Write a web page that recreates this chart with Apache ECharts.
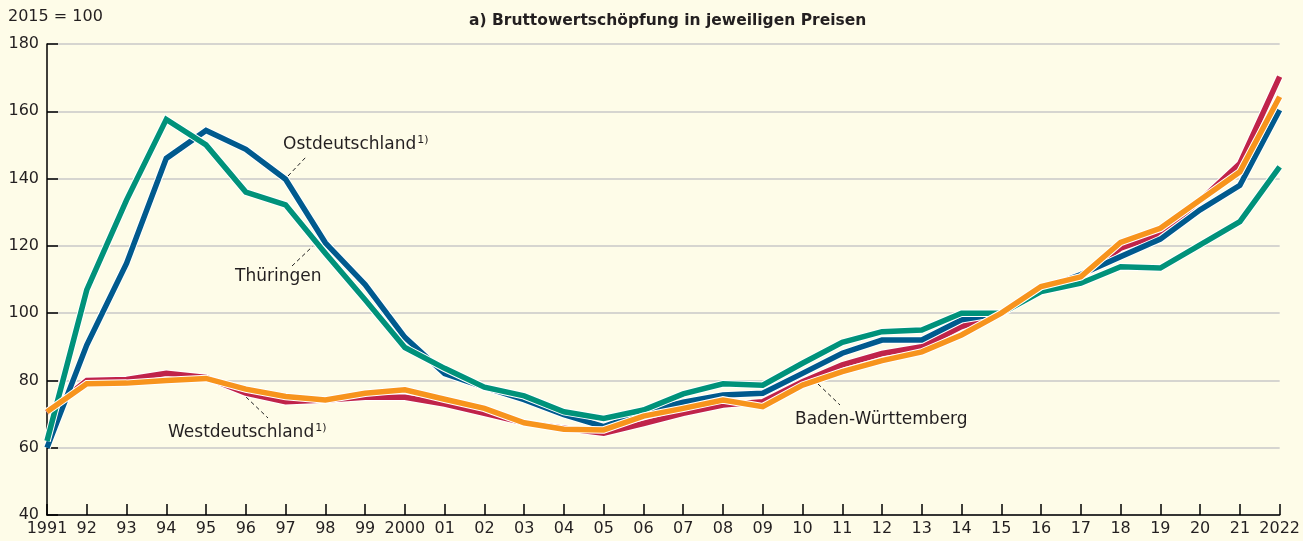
<!DOCTYPE html>
<html>
<head>
<meta charset="utf-8">
<script src="https://cdn.jsdelivr.net/npm/echarts@6/dist/echarts.min.js"></script>
<style>
  html, body { margin: 0; padding: 0; background: #fefce8; }
  #main { width: 1303px; height: 541px; }
</style>
</head>
<body>
<div id="main"></div>
<script>
// Jahre 1991 - 2022
const years = ['1991', '92', '93', '94', '95', '96', '97', '98', '99', '2000',
  '01', '02', '03', '04', '05', '06', '07', '08', '09', '10',
  '11', '12', '13', '14', '15', '16', '17', '18', '19', '20', '21', '2022'];

// 2015 = 100
const ostdeutschland = [60, 90.5, 114.8, 146, 154.3, 148.7, 139.8, 120.9, 108.5, 92.8,
  82, 78, 74.3, 69.8, 66.3, 70.5, 73.5, 75.7, 76.2, 82.1,
  88.1, 92, 92, 98, 100, 107, 111.5, 116.8, 122, 130.7, 138, 160.4];
const thueringen = [62, 106.9, 133.6, 157.6, 150, 136, 132.2, 117.8, 104, 89.8,
  83.6, 78, 75.4, 70.7, 68.7, 71.2, 76, 79, 78.6, 85.1,
  91.3, 94.5, 95, 100, 100, 106.4, 108.9, 113.8, 113.4, 120.3, 127.2, 143.5];
const westdeutschland = [70.5, 80, 80.3, 82.1, 80.9, 76.2, 73.7, 74.2, 75, 75,
  73, 70.2, 67.4, 65.8, 64.3, 67.2, 70.2, 72.7, 73.7, 79.6,
  84.6, 88, 90, 96, 100, 107, 111, 119.3, 123.5, 133.5, 144.5, 170.3];
const badenWuerttemberg = [70.7, 79, 79.2, 80, 80.6, 77.4, 75.2, 74.2, 76.2, 77.2,
  74.4, 71.7, 67.4, 65.5, 65.3, 69.4, 71.7, 74.2, 72.2, 78.6,
  82.6, 85.9, 88.5, 93.5, 100, 107.9, 110.8, 121, 125.2, 133.6, 142, 164.3];

const yTicks = { min: 40, max: 180, interval: 20 };

const txt = '#231f20';
const font = '"DejaVu Sans", "Liberation Sans", sans-serif';

// linie mit weissem rand: erst breite weisse, dann farbige
function linie(name, data, color) {
  return [
    {
      name: name + '_rand', type: 'line', data: data, symbol: 'none', silent: true,
      lineStyle: { color: '#ffffff', width: 7.5, join: 'miter' }
    },
    {
      name: name, type: 'line', data: data, symbol: 'none',
      lineStyle: { color: color, width: 5.5, join: 'miter' }
    }
  ];
}

// beschriftung, optional mit fussnote 1)
function label(x, y, text, fn) {
  return {
    type: 'text', left: x, top: y,
    style: {
      text: fn ? '{a|' + text + '}{s|1)}' : '{a|' + text + '}',
      rich: {
        a: { fontFamily: font, fontSize: 17, fill: txt, color: txt, lineHeight: 20 },
        s: { fontFamily: font, fontSize: 11, fill: txt, color: txt, verticalAlign: 'top', lineHeight: 20, padding: [0, 0, 0, 1] }
      }
    }
  };
}
function leader(x1, y1, x2, y2) {
  return {
    type: 'line', shape: { x1: x1, y1: y1, x2: x2, y2: y2 },
    style: { stroke: '#222', lineWidth: 1, lineDash: [4, 3] }
  };
}

var myChart = echarts.init(document.getElementById('main'));
myChart.setOption({
  backgroundColor: '#fefce8',
  animation: false,
  title: {
    text: 'a) Bruttowertschöpfung in jeweiligen Preisen',
    left: 464, top: 8,
    textStyle: { fontFamily: font, fontSize: 15.5, fontWeight: 'bold', color: txt }
  },
  grid: { left: 47, right: 23, top: 44, bottom: 26 },
  xAxis: {
    type: 'category',
    data: years,
    boundaryGap: false,
    axisLine: { lineStyle: { color: '#000', width: 1.5 } },
    axisTick: { inside: true, length: 11, interval: 0, lineStyle: { color: '#000', width: 1.5 } },
    axisLabel: { interval: 0, margin: 6, fontFamily: font, fontSize: 16, color: txt }
  },
  yAxis: {
    type: 'value',
    min: yTicks.min, max: yTicks.max, interval: yTicks.interval,
    axisLine: { show: true, lineStyle: { color: '#000', width: 1.5 } },
    axisTick: { show: true, inside: true, length: 11, lineStyle: { color: '#000', width: 1.5 } },
    axisLabel: { margin: 8, fontFamily: font, fontSize: 16, color: txt },
    splitLine: { lineStyle: { color: '#c8c8c8', width: 1.5 } }
  },
  series: [].concat(
    linie('Westdeutschland', westdeutschland, '#c0234a'),
    linie('Ostdeutschland', ostdeutschland, '#005a8e'),
    linie('Thüringen', thueringen, '#00927a'),
    linie('Baden-Württemberg', badenWuerttemberg, '#f7941d')
  ),
  graphic: [
    { type: 'text', left: 8, top: 9, style: { text: '2015 = 100', font: '16px ' + font, fill: txt } },
    label(283, 135, 'Ostdeutschland', true),
    leader(288, 176, 306, 157),
    label(235, 268, 'Thüringen'),
    leader(292, 266, 313, 246),
    label(168, 423, 'Westdeutschland', true),
    leader(246, 397, 268, 418),
    label(795, 411, 'Baden-Württemberg'),
    leader(818, 384, 840, 405)
  ]
});
</script>
</body>
</html>
